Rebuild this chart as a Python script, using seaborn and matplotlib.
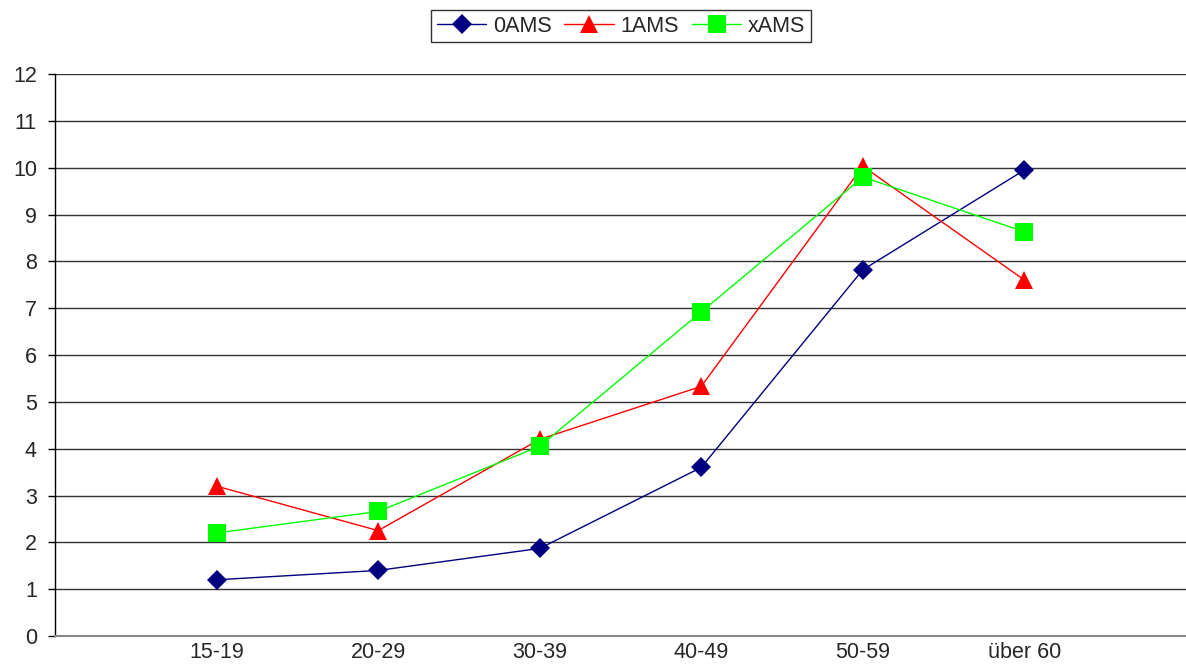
import pandas as pd
import matplotlib.pyplot as plt
import seaborn as sns

# Werte
altersgruppen = ['15-19', '20-29', '30-39', '40-49', '50-59', 'über 60']
ams_0 = [1.2, 1.4, 1.87, 3.6, 7.82, 9.95]
ams_1 = [3.2, 2.25, 4.2, 5.33, 10.03, 7.6]
ams_x = [2.2, 2.66, 4.05, 6.92, 9.8, 8.63]

df = pd.DataFrame({'Alter': altersgruppen, '0AMS': ams_0, '1AMS': ams_1, 'xAMS': ams_x})
df['pos'] = range(1, len(altersgruppen) + 1)
df_long = df.melt(id_vars=['Alter', 'pos'], var_name='Serie', value_name='Wert')

sns.set_style('white')
plt.rcParams['font.family'] = ['Liberation Sans', 'DejaVu Sans']

fig = plt.figure(figsize=(11.86, 6.64), dpi=100)
ax = fig.add_axes([55 / 1186, 28 / 664, 1 - 55 / 1186, 562 / 664])

farben = {'0AMS': '#000080', '1AMS': '#FF0000', 'xAMS': '#00FF00'}
marker = {'0AMS': 'D', '1AMS': '^', 'xAMS': 's'}
groessen = {'0AMS': 10, '1AMS': 13, 'xAMS': 13}

for serie in ['0AMS', '1AMS', 'xAMS']:
    teil = df_long[df_long['Serie'] == serie]
    sns.lineplot(data=teil, x='pos', y='Wert', color=farben[serie], marker=marker[serie],
                 markersize=groessen[serie], markeredgewidth=0, linewidth=1,
                 label=serie, ax=ax)

ax.set_xlim(0, 7)
ax.set_ylim(0, 12)
ax.set_yticks(range(0, 13))
ax.set_xticks(df['pos'])
ax.set_xticklabels(altersgruppen)
ax.set_xlabel('')
ax.set_ylabel('')
ax.grid(axis='y', color='#333333', linewidth=1)
ax.grid(axis='x', visible=False)
ax.set_axisbelow(True)
ax.tick_params(axis='y', left=True, length=5, width=1, color='black', labelsize=15.5, pad=8)
ax.tick_params(axis='x', bottom=False, labelsize=15.5, pad=1)

for s in ['top', 'right']:
    ax.spines[s].set_visible(False)
ax.spines['left'].set_color('black')
ax.spines['left'].set_linewidth(1)
ax.spines['bottom'].set_color('#888888')
ax.spines['bottom'].set_linewidth(1.5)

leg = ax.legend(loc='center', ncol=3, frameon=True, fancybox=False, edgecolor='black',
                fontsize=15.5, handlelength=2.3, columnspacing=0.6, handletextpad=0.3,
                borderpad=0.25, borderaxespad=0)
leg.get_frame().set_linewidth(1)
leg.set_bbox_to_anchor((621 / 1186, 1 - 26 / 664), transform=fig.transFigure)

fig.savefig('out.png', dpi=100)
